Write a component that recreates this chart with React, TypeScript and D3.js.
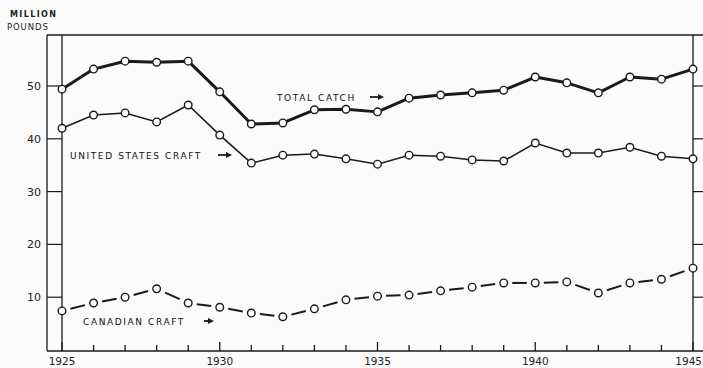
import React from "react";
import * as d3 from "d3";

const years = d3.range(1925, 1946);
const totalCatch = [49.4, 53.2, 54.7, 54.5, 54.7, 48.9, 42.8, 43.0, 45.5, 45.6, 45.1, 47.7, 48.3, 48.7, 49.2, 51.7, 50.6, 48.7, 51.7, 51.3, 53.2];
const usCraft = [42.0, 44.5, 44.9, 43.2, 46.4, 40.7, 35.4, 36.9, 37.1, 36.2, 35.2, 36.9, 36.7, 36.0, 35.8, 39.2, 37.3, 37.3, 38.4, 36.7, 36.2];
const canadianCraft = [7.4, 8.9, 10.0, 11.6, 8.9, 8.1, 7.0, 6.3, 7.8, 9.5, 10.2, 10.4, 11.2, 11.9, 12.7, 12.7, 12.9, 10.8, 12.7, 13.4, 15.5];
const yTicks = [10, 20, 30, 40, 50];
const xLabels = [1925, 1930, 1935, 1940, 1945];

const W = 703, H = 368;
const FONT = "'DejaVu Sans', Verdana, sans-serif";

export default function App() {
  const x = d3.scaleLinear().domain([1925, 1945]).range([62, 693]);
  const y = d3.scaleLinear().domain([0, 50]).range([350, 86]);
  const top = 35, bottom = 351, outerL = 47, outerR = 710;
  const line = d3.line<number>().x((_, i) => x(years[i])).y((v) => y(v));
  const ink = "#1a1a1a";

  const circles = (arr: number[], key: string) =>
    arr.map((v, i) => (
      <circle key={key + i} cx={x(years[i])} cy={y(v)} r={3.8} fill="#fff" stroke={ink} strokeWidth={1.4} />
    ));

  const canSegs = canadianCraft.slice(0, -1).map((v, i) => {
    const x0 = x(years[i]), y0 = y(v), x1 = x(years[i + 1]), y1 = y(canadianCraft[i + 1]);
    const a = 0.27, b = 0.73;
    return (
      <line key={"cs" + i} x1={x0 + (x1 - x0) * a} y1={y0 + (y1 - y0) * a} x2={x0 + (x1 - x0) * b} y2={y0 + (y1 - y0) * b}
        stroke={ink} strokeWidth={2} />
    );
  });

  return (
    <svg width={W} height={H} style={{ position: "absolute", left: 0, top: 0, background: "#fbfbfb" }} fontFamily={FONT}>
      {/* frame */}
      <line x1={outerL} x2={outerR} y1={top} y2={top} stroke={ink} strokeWidth={1.3} />
      <line x1={outerL} x2={outerR} y1={bottom} y2={bottom} stroke={ink} strokeWidth={1.3} />
      <line x1={outerL} x2={outerL} y1={top} y2={bottom} stroke={ink} strokeWidth={1.3} />
      <line x1={x(1925)} x2={x(1925)} y1={top} y2={bottom} stroke={ink} strokeWidth={1.3} />
      <line x1={x(1945)} x2={x(1945)} y1={top} y2={bottom} stroke={ink} strokeWidth={1.3} />
      {/* y ticks */}
      {yTicks.map((t) => (
        <g key={"yt" + t}>
          <line x1={outerL} x2={x(1925)} y1={y(t)} y2={y(t)} stroke={ink} strokeWidth={1.2} />
          <line x1={x(1945)} x2={outerR} y1={y(t)} y2={y(t)} stroke={ink} strokeWidth={1.2} />
          <text x={41} y={y(t)} dy="0.36em" textAnchor="end" fontSize={11} fill="#222">{t}</text>
        </g>
      ))}
      {/* x ticks */}
      {years.map((yr) => (
        <line key={"xt" + yr} x1={x(yr)} x2={x(yr)} y1={bottom} y2={bottom - (yr % 5 === 0 ? 9 : 6)} stroke={ink} strokeWidth={1.3} />
      ))}
      {xLabels.map((yr) => (
        <text key={"xl" + yr} x={yr === 1945 ? 702 : x(yr)} y={365} textAnchor={yr === 1945 ? "end" : "middle"} fontSize={10.5} fill="#222">{yr}</text>
      ))}
      {/* axis title */}
      <text x={10} y={17} fontSize={8} fontWeight="bold" letterSpacing={1.4} fill="#222">MILLION</text>
      <text x={7} y={30} fontSize={8.5} letterSpacing={0.9} fill="#222">POUNDS</text>
      {/* series */}
      <path d={line(totalCatch) || ""} fill="none" stroke={ink} strokeWidth={3} strokeLinejoin="round" />
      <path d={line(usCraft) || ""} fill="none" stroke={ink} strokeWidth={1.5} />
      {canSegs}
      {circles(totalCatch, "t")}
      {circles(usCraft, "u")}
      {circles(canadianCraft, "c")}
      {/* labels */}
      <g fontSize={9} letterSpacing={1.6} fill="#111">
        <text x={277} y={101}>TOTAL CATCH</text>
        <text x={70} y={159}>UNITED STATES CRAFT</text>
        <text x={83} y={325}>CANADIAN CRAFT</text>
      </g>
      {[[370, 97, 384], [218, 155, 232], [204, 321, 214]].map(([ax, ay, bx], i) => (
        <g key={"ar" + i}>
          <line x1={ax} x2={bx - 4} y1={ay} y2={ay} stroke={ink} strokeWidth={1.8} />
          <path d={`M${bx},${ay} L${bx - 6},${ay - 3} L${bx - 6},${ay + 3} Z`} fill={ink} />
        </g>
      ))}
    </svg>
  );
}
